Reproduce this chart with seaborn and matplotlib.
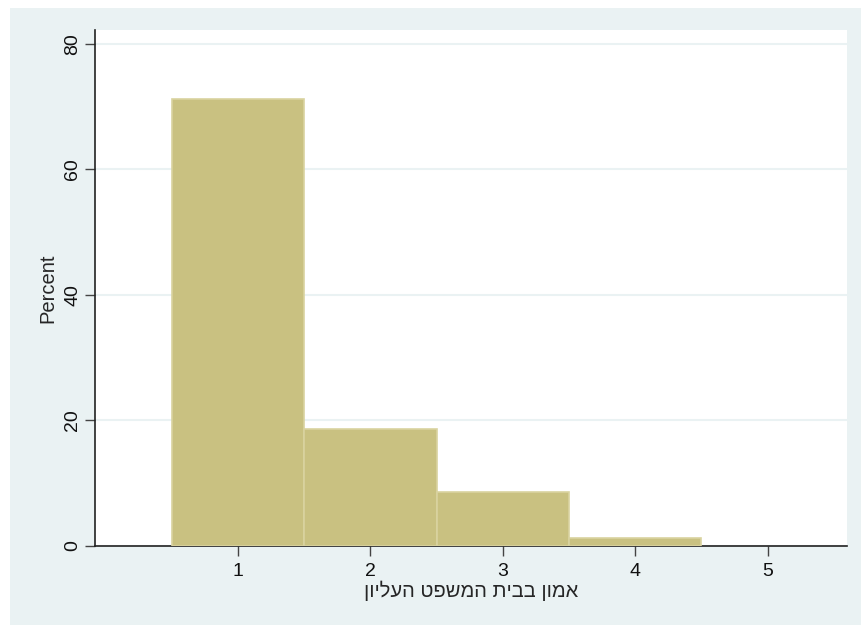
import matplotlib
matplotlib.use('Agg')
import matplotlib.pyplot as plt
import seaborn as sns
from matplotlib.patches import Rectangle

# Data
trust_levels = [1, 2, 3, 4, 5]
percent = [71.2, 18.6, 8.6, 1.3, 0.0]
x_ticks = [1, 2, 3, 4, 5]
y_ticks = [0, 20, 40, 60, 80]
x_label = "אמון בבית המשפט העליון"
y_label = "Percent"

sns.set_style('white')
plt.rcParams['font.family'] = ['Liberation Sans', 'DejaVu Sans']

fig = plt.figure(figsize=(8.62, 6.25), dpi=100, facecolor='white')
# Stata-like outer background panel
fig.patches.append(Rectangle((10 / 862, 0), 1, 1 - 8 / 625, transform=fig.transFigure,
                             facecolor='#EAF2F3', edgecolor='none', zorder=-10))

ax = fig.add_axes([95 / 862, 79 / 625, 752 / 862, 516 / 625])
ax.set_facecolor('white')

# empty categories draw nothing in the original
xs = [x for x, p in zip(trust_levels, percent) if p > 0]
ws = [p for p in percent if p > 0]
sns.histplot(x=xs, weights=ws, discrete=True, stat='count',
             color='#C9C181', edgecolor='#D9D3A0', linewidth=1.2, alpha=1,
             ax=ax, zorder=3)

ax.set_xlim(-0.08, 5.6)
ax.set_ylim(0, 82.2)
ax.set_xticks(x_ticks)
ax.set_yticks(y_ticks)
ax.yaxis.grid(True, color='#EAF2F3', linewidth=1.5, zorder=0)
ax.set_axisbelow(True)

for s in ['top', 'right']:
    ax.spines[s].set_visible(False)
for s in ['left', 'bottom']:
    ax.spines[s].set_color('#222222')
    ax.spines[s].set_linewidth(1.2)

ax.tick_params(axis='both', direction='out', length=7, width=1, color='#444444',
               labelsize=14, labelcolor='#111111', bottom=True, left=True, pad=5)
ax.tick_params(axis='y', pad=3)
for lab in ax.get_yticklabels():
    lab.set_rotation(90)
    lab.set_va('center')

# matplotlib does not reorder right-to-left text, so reverse for display
ax.set_xlabel(x_label[::-1], fontsize=14.5, labelpad=1)
ax.set_ylabel(y_label, fontsize=14.5, labelpad=5)

fig.savefig('out.png', dpi=100, facecolor='white')
